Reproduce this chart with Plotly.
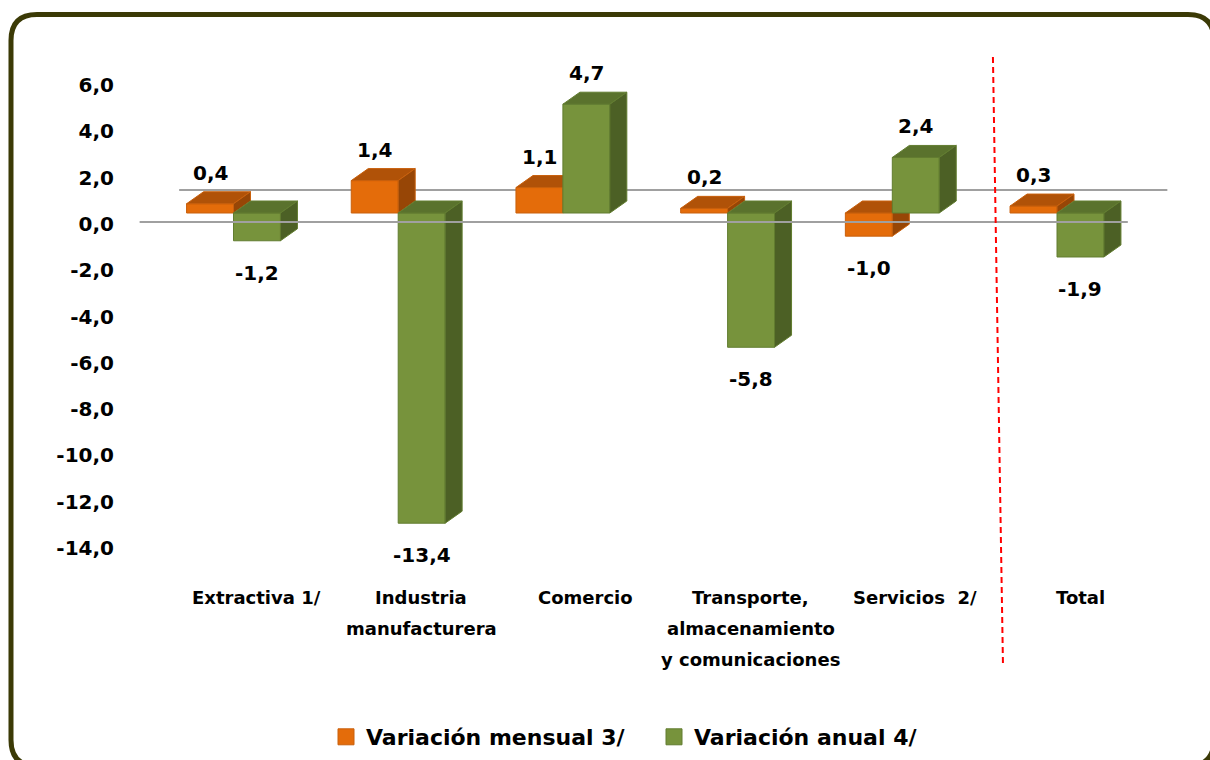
import plotly.graph_objects as go

# ---------------- data ----------------
categories = ["Extractiva 1/", "Industria\nmanufacturera", "Comercio",
              "Transporte,\nalmacenamiento\ny comunicaciones", "Servicios  2/", "Total"]
mensual = [0.4, 1.4, 1.1, 0.2, -1.0, 0.3]
anual = [-1.2, -13.4, 4.7, -5.8, 2.4, -1.9]
series_names = ["Variación mensual 3/", "Variación anual 4/"]
y_ticks = [6, 4, 2, 0, -2, -4, -6, -8, -10, -12, -14]

# ---------------- styling / geometry ----------------
FONT = "DejaVu Sans"
W, H = 1210, 760
ML, MR, MT, MB = 120, 20, 50, 190
PW, PH = W - ML - MR, H - MT - MB
px_per_x = 164.7
px_per_y = 23.15
x_lo = -(233.5 - ML) / px_per_x
x_range = [x_lo, x_lo + PW / px_per_x]
bar_top = (213 - MT) / px_per_y          # value at top of plot area (bars axis)
y_range = [bar_top - PH / px_per_y, bar_top]
tick_shift = 0.471                          # 3D projection offset of the value wall

bw = 0.285
ddx = 17 / px_per_x
ddy = 12 / px_per_y

colors = {
    0: dict(front="#E46C0A", top="#B05208", side="#974606", line="#C9600C"),
    1: dict(front="#77933C", top="#5A722D", side="#4C6025", line="#627D30"),
}


def pts_to_paper_x(px):
    return (px - ML) / PW


def pts_to_paper_y(py):
    return (H - MB - py) / PH


def fmt(v):
    return f"{v:.1f}".replace(".", ",")


fig = go.Figure()

# floor back line (behind bars)
fig.add_shape(type="line", xref="x", yref="y", layer="below",
              x0=-0.33, x1=5.67, y0=23 / px_per_y, y1=23 / px_per_y,
              line=dict(color="#A0A0A0", width=2))

# faces of the 3D bars
for s, vals in enumerate([mensual, anual]):
    c = colors[s]
    faces = {"front": ([], []), "top": ([], []), "side": ([], [])}
    for i, v in enumerate(vals):
        x0 = i - bw if s == 0 else i
        x1 = x0 + bw
        lo, hi = min(v, 0), max(v, 0)
        polys = {
            "front": [(x0, lo), (x1, lo), (x1, hi), (x0, hi), (x0, lo)],
            "top": [(x0, hi), (x1, hi), (x1 + ddx, hi + ddy), (x0 + ddx, hi + ddy), (x0, hi)],
            "side": [(x1, lo), (x1 + ddx, lo + ddy), (x1 + ddx, hi + ddy), (x1, hi), (x1, lo)],
        }
        for k, p in polys.items():
            faces[k][0].extend([q[0] for q in p] + [None])
            faces[k][1].extend([q[1] for q in p] + [None])
    for k in ["front", "top", "side"]:
        fig.add_trace(go.Scatter(
            x=faces[k][0], y=faces[k][1], mode="lines",
            fill="toself", fillcolor=c[k], line=dict(color=c["line"], width=1),
            showlegend=False, hoverinfo="skip"))

# legend entries
for s, name in enumerate(series_names):
    fig.add_trace(go.Scatter(
        x=[None], y=[None], mode="markers", name=name,
        marker=dict(symbol="square", size=16, color=colors[s]["front"],
                    line=dict(color=colors[s]["line"], width=1))))

# data labels
for s, vals in enumerate([mensual, anual]):
    for i, v in enumerate(vals):
        xc = i - bw / 2 if s == 0 else i + bw / 2
        fig.add_annotation(x=xc, y=v, xref="x", yref="y", text=fmt(v),
                           showarrow=False, yanchor="middle",
                           yshift=31 if v >= 0 else -32,
                           font=dict(family=FONT, size=20, color="black", weight="bold"))

# category labels
for i, cat in enumerate(categories):
    for j, line in enumerate(cat.split("\n")):
        fig.add_annotation(x=i + 0.14, y=pts_to_paper_y(597 + j * 31), xref="x", yref="paper",
                           text=line, showarrow=False, yanchor="middle", xanchor="center",
                           font=dict(family=FONT, size=18, color="black", weight="bold"))

# floor front line (in front of bars)
fig.add_shape(type="line", xref="x", yref="y", layer="above",
              x0=-0.57, x1=5.43, y0=-9 / px_per_y, y1=-9 / px_per_y,
              line=dict(color="#A0A0A0", width=2))

# red dashed separator
fig.add_shape(type="line", xref="x", yref="paper",
              x0=4.611, x1=4.672, y0=pts_to_paper_y(57), y1=pts_to_paper_y(665),
              line=dict(color="#FF0000", width=2, dash="6px,4px"))

# rounded border
l, t, r, b, rad = 11, 14.5, 1214, 766, 26
def P(x, y):
    return f"{pts_to_paper_x(x):.5f},{pts_to_paper_y(y):.5f}"
path = (f"M {P(l, t + rad)} Q {P(l, t)} {P(l + rad, t)} L {P(r - rad, t)} "
        f"Q {P(r, t)} {P(r, t + rad)} L {P(r, b - rad)} Q {P(r, b)} {P(r - rad, b)} "
        f"L {P(l + rad, b)} Q {P(l, b)} {P(l, b - rad)} Z")
fig.add_shape(type="path", xref="paper", yref="paper", path=path,
              line=dict(color="#3B3A06", width=5), layer="above")

fig.update_layout(
    width=W, height=H,
    margin=dict(l=ML, r=MR, t=MT, b=MB, autoexpand=False),
    paper_bgcolor="white", plot_bgcolor="white",
    showlegend=True,
    legend=dict(orientation="h", x=pts_to_paper_x(326), xanchor="left",
                y=pts_to_paper_y(737), yanchor="middle",
                font=dict(family=FONT, size=22, color="black", weight="bold"),
                itemwidth=30, entrywidth=283, entrywidthmode="pixels"),
    xaxis=dict(range=x_range, visible=False, fixedrange=True),
    yaxis=dict(range=y_range, tickvals=[v - tick_shift for v in y_ticks],
               ticktext=[fmt(v) for v in y_ticks],
               showgrid=False, zeroline=False, showline=False, ticks="",
               ticklabelstandoff=5, fixedrange=True,
               tickfont=dict(family=FONT, size=20, color="black", weight="bold")),
)

fig.write_html("out.html", config={"displayModeBar": False},
               post_script="document.body.style.margin='0px';")
